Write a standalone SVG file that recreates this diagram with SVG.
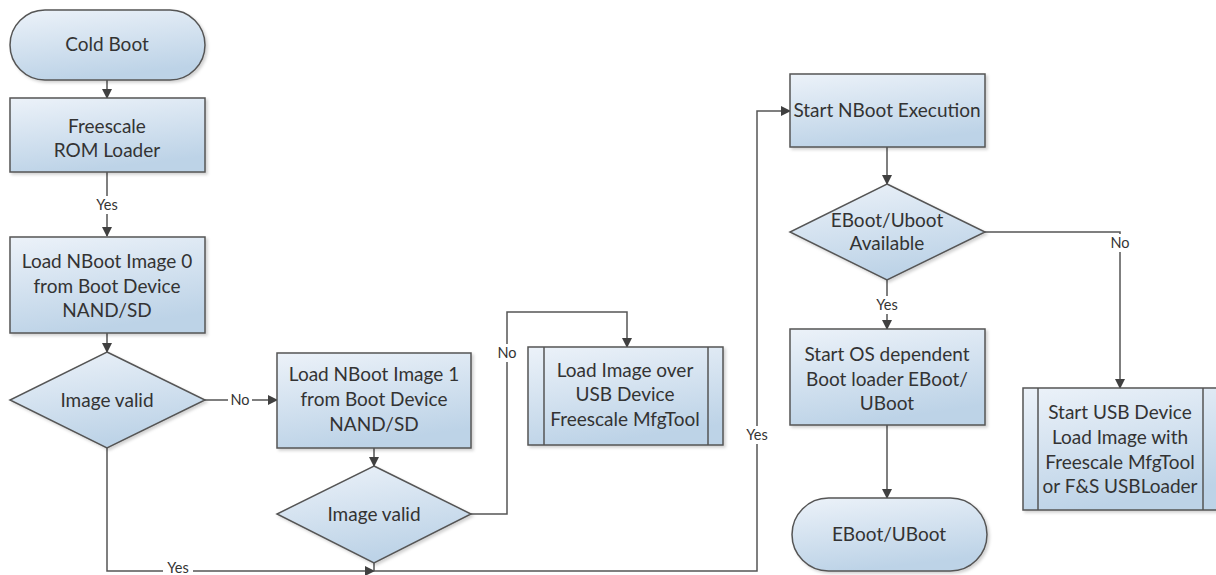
<svg xmlns="http://www.w3.org/2000/svg" width="1216" height="575" viewBox="0 0 1216 575">
<defs>
<linearGradient id="g" x1="0" y1="0" x2="0.3" y2="1">
<stop offset="0" stop-color="#ecf2f9"/>
<stop offset="1" stop-color="#bdd3e7"/>
</linearGradient>
<filter id="sh" x="-10%" y="-10%" width="130%" height="130%">
<feDropShadow dx="2" dy="2" stdDeviation="1.5" flood-color="#000" flood-opacity="0.18"/>
</filter>
<marker id="ah" markerWidth="10" markerHeight="10" refX="9" refY="5" orient="auto" markerUnits="userSpaceOnUse">
<path d="M0,0 L10,5 L0,10 Z" fill="#404040"/>
</marker>
<style>
.n{fill:url(#g);stroke:#555;stroke-width:1.5;filter:url(#sh)}
.l{fill:none;stroke:#555;stroke-width:1.5}
.t{font-family:Lato,"Open Sans","Liberation Sans",sans-serif;font-size:19px;fill:#333;text-anchor:middle}
.s{font-family:Lato,"Open Sans","Liberation Sans",sans-serif;font-size:14.5px;fill:#333;text-anchor:middle}
.c{fill:none;stroke:#555;stroke-width:1.5;marker-end:url(#ah)}
</style>
</defs>
<rect width="1216" height="575" fill="#fff"/>

<g id="connectors">
<path class="c" d="M107,80 V98"/>
<path class="c" d="M107,172 V236"/>
<path class="c" d="M107,333 V352"/>
<path class="c" d="M205,400 H277"/>
<path class="c" d="M374,448 V466"/>
<path class="c" d="M471,514 H507 V312 H627 V347"/>
<path class="c" d="M107,448 V571 H374"/>
<path class="c" d="M374,563 V571 H757 V111 H790"/>
<path class="c" d="M887,147 V184"/>
<path class="c" d="M887,280 V329"/>
<path class="c" d="M985,232 H1120 V388"/>
<path class="c" d="M887,425 V498"/>
<rect x="92" y="196" width="30" height="18" fill="#fff"/>
<text class="s" x="107" y="210">Yes</text>
<rect x="228" y="392" width="24" height="16" fill="#fff"/>
<text class="s" x="240" y="405">No</text>
<rect x="497" y="344" width="20" height="18" fill="#fff"/>
<text class="s" x="507" y="358">No</text>
<rect x="163" y="563" width="30" height="12" fill="#fff"/>
<text class="s" x="178" y="573" font-size="13">Yes</text>
<rect x="742" y="426" width="30" height="18" fill="#fff"/>
<text class="s" x="757" y="440">Yes</text>
<rect x="1108" y="234" width="24" height="18" fill="#fff"/>
<text class="s" x="1120" y="248">No</text>
<rect x="872" y="296" width="30" height="18" fill="#fff"/>
<text class="s" x="887" y="310">Yes</text>
</g>

<g id="cold-boot">
<rect class="n" x="10" y="10" width="195" height="70" rx="35" ry="35"/>
<text class="t" x="107" y="51">Cold Boot</text>
</g>
<g id="rom-loader">
<rect class="n" x="10" y="98" width="195" height="74"/>
<text class="t" x="107" y="133">Freescale</text>
<text class="t" x="107" y="157">ROM Loader</text>
</g>
<g id="load-nboot-0">
<rect class="n" x="10" y="237" width="195" height="96"/>
<text class="t" x="107" y="268">Load NBoot Image 0</text>
<text class="t" x="107" y="293">from Boot Device</text>
<text class="t" x="107" y="317">NAND/SD</text>
</g>
<g id="image-valid-0">
<polygon class="n" points="107,352 205,400 107,448 10,400"/>
<text class="t" x="107" y="407">Image valid</text>
</g>
<g id="load-nboot-1">
<rect class="n" x="277" y="353" width="194" height="95"/>
<text class="t" x="374" y="381">Load NBoot Image 1</text>
<text class="t" x="374" y="406">from Boot Device</text>
<text class="t" x="374" y="431">NAND/SD</text>
</g>
<g id="image-valid-1">
<polygon class="n" points="374,466 471,514 374,563 277,514"/>
<text class="t" x="374" y="521">Image valid</text>
</g>
<g id="load-usb">
<rect class="n" x="528" y="347" width="195" height="98"/>
<line class="l" x1="544" y1="347" x2="544" y2="445"/>
<line class="l" x1="708" y1="347" x2="708" y2="445"/>
<text class="t" x="625" y="377">Load Image over</text>
<text class="t" x="625" y="401">USB Device</text>
<text class="t" x="625" y="426">Freescale MfgTool</text>
</g>
<g id="start-nboot">
<rect class="n" x="790" y="74" width="195" height="73"/>
<text class="t" x="887" y="117">Start NBoot Execution</text>
</g>
<g id="eboot-available">
<polygon class="n" points="887,184 985,232 887,280 790,232"/>
<text class="t" x="887" y="227">EBoot/Uboot</text>
<text class="t" x="887" y="250">Available</text>
</g>
<g id="start-os">
<rect class="n" x="790" y="329" width="195" height="96"/>
<text class="t" x="887" y="361">Start OS dependent</text>
<text class="t" x="887" y="386">Boot loader EBoot/</text>
<text class="t" x="887" y="410">UBoot</text>
</g>
<g id="eboot-end">
<rect class="n" x="792" y="498" width="195" height="73" rx="36.5" ry="36.5"/>
<text class="t" x="889" y="541">EBoot/UBoot</text>
</g>
<g id="start-usb">
<rect class="n" x="1023" y="388" width="195" height="122"/>
<line class="l" x1="1038" y1="388" x2="1038" y2="510"/>
<line class="l" x1="1203" y1="388" x2="1203" y2="510"/>
<text class="t" x="1120" y="419">Start USB Device</text>
<text class="t" x="1120" y="444">Load Image with</text>
<text class="t" x="1120" y="469">Freescale MfgTool</text>
<text class="t" x="1120" y="493">or F&amp;S USBLoader</text>
</g>
</svg>
